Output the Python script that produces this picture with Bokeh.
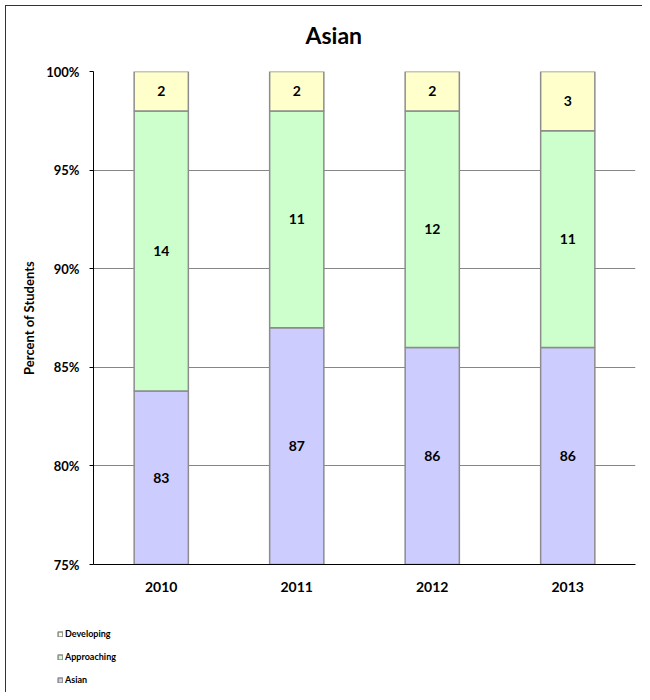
from bokeh.plotting import figure
from bokeh.layouts import column
from bokeh.models import ColumnDataSource, Range1d, Legend, LegendItem, PrintfTickFormatter, FixedTicker
from bokeh.embed import file_html
from bokeh.resources import INLINE
from bokeh.core.properties import value

# ---- data ----
years = ["2010", "2011", "2012", "2013"]
asian = [83.8, 87.0, 86.0, 86.0]
approaching = [14.2, 11.0, 12.0, 11.0]
developing = [2.0, 2.0, 2.0, 3.0]
asian_labels = ["83", "87", "86", "86"]
approaching_labels = ["14", "11", "12", "11"]
developing_labels = ["2", "2", "2", "3"]
series = ["Asian", "Approaching", "Developing"]
colors = ["#CCCCFF", "#CCFFCC", "#FFFFCC"]
y_ticks = [75, 80, 85, 90, 95, 100]
y_min, y_max = 75, 100

FONT = "Lato"
EDGE = "#8C8C8C"

src = ColumnDataSource(data={
    "year": years,
    "Asian": asian,
    "Approaching": approaching,
    "Developing": developing,
})

p = figure(
    x_range=years, y_range=Range1d(y_min, y_max),
    width=642, height=620,
    output_backend="svg", toolbar_location=None,
    min_border_left=93, min_border_right=7,
    min_border_top=71, min_border_bottom=56,
    border_fill_color=None, background_fill_color=None,
)

renderers = p.vbar_stack(series, x="year", width=0.4, source=src,
                         fill_color=colors, line_color=EDGE, line_width=1.5)

# segment labels (centered in the visible part of each segment)
lx, ly, lt = [], [], []
label_sets = [asian_labels, approaching_labels, developing_labels]
value_sets = [asian, approaching, developing]
for i, yr in enumerate(years):
    bottom = 0.0
    for vals, labs in zip(value_sets, label_sets):
        top = bottom + vals[i]
        lo = max(bottom, y_min)
        lx.append(yr)
        ly.append((lo + top) / 2)
        lt.append(labs[i])
        bottom = top

lab_src = ColumnDataSource(data={"x": lx, "y": ly, "t": lt})
p.text(x="x", y="y", text="t", source=lab_src, text_align="center",
       text_baseline="middle", text_font=value(FONT), text_font_style="bold",
       text_font_size="14px", text_color="black")

# title
p.title.text = "Asian"
p.title.align = "left"
p.title.offset = 212
p.title.vertical_align = "top"
p.title.text_font = FONT
p.title.text_font_size = "23px"
p.title.text_font_style = "bold"
p.title.text_color = "black"
p.title.standoff = 41

# grid / outline
p.outline_line_color = None
p.xgrid.grid_line_color = None
p.ygrid.grid_line_color = "#868686"
p.ygrid.ticker = FixedTicker(ticks=y_ticks)

# y axis
p.yaxis.ticker = FixedTicker(ticks=y_ticks)
p.yaxis.formatter = PrintfTickFormatter(format="%d%%")
p.yaxis.axis_line_color = "black"
p.yaxis.major_tick_line_color = "black"
p.yaxis.major_tick_out = 4
p.yaxis.major_tick_in = 0
p.yaxis.minor_tick_line_color = None
p.yaxis.major_label_standoff = 10
p.yaxis.major_label_text_font = FONT
p.yaxis.major_label_text_font_size = "13px"
p.yaxis.major_label_text_font_style = "bold"
p.yaxis.major_label_text_color = "black"
p.yaxis.axis_label = "Percent of Students"
p.yaxis.axis_label_text_font = FONT
p.yaxis.axis_label_text_font_size = "13px"
p.yaxis.axis_label_text_font_style = "bold"
p.yaxis.axis_label_text_color = "black"
p.yaxis.axis_label_standoff = 6

# x axis
p.xaxis.axis_line_color = "black"
p.xaxis.major_tick_line_color = None
p.xaxis.major_tick_out = 0
p.xaxis.major_tick_in = 0
p.xaxis.major_label_standoff = 17
p.xaxis.major_label_text_font = FONT
p.xaxis.major_label_text_font_size = "14px"
p.xaxis.major_label_text_font_style = "bold"
p.xaxis.major_label_text_color = "black"

# ---- legend strip below the chart (own figure so it is not clipped) ----
leg_fig = figure(
    x_range=years, y_range=Range1d(y_min, y_max),
    width=642, height=72,
    output_backend="svg", toolbar_location=None,
    x_axis_type=None, y_axis_type=None,
    min_border=0, min_border_left=0, min_border_right=0,
    min_border_top=0, min_border_bottom=0,
    border_fill_color=None, background_fill_color=None,
)
leg_fig.outline_line_color = None
leg_fig.grid.visible = False
leg_r = leg_fig.vbar_stack(series, x="year", width=0.4, source=src,
                           fill_color=colors, line_color=EDGE, line_width=1.5)
for r in leg_r:
    r.visible = False

leg_x = 57
try:
    p.frame_align = False
    leg_fig.frame_align = False
except Exception:
    leg_x = 0

legend = Legend(items=[
    LegendItem(label="Developing", renderers=[leg_r[2]]),
    LegendItem(label="Approaching", renderers=[leg_r[1]]),
    LegendItem(label="Asian", renderers=[leg_r[0]]),
], location=(leg_x, 7))
legend.border_line_color = None
legend.background_fill_alpha = 0
legend.padding = 0
legend.margin = 0
legend.spacing = 12
legend.glyph_width = 6
legend.glyph_height = 6
legend.label_height = 11
legend.label_standoff = 2
legend.label_text_font = FONT
legend.label_text_font_size = "9px"
legend.label_text_font_style = "bold"
legend.label_text_color = "black"
legend.label_text_baseline = "middle"
leg_fig.add_layout(legend)

layout = column(p, leg_fig, spacing=0)
layout.styles = {
    "background": "linear-gradient(#333,#333) 5px 5px / 1px 100% no-repeat, "
                  "linear-gradient(#333,#333) 5px 5px / 100% 1px no-repeat",
}

open("out.html", "w").write(file_html(layout, INLINE))
